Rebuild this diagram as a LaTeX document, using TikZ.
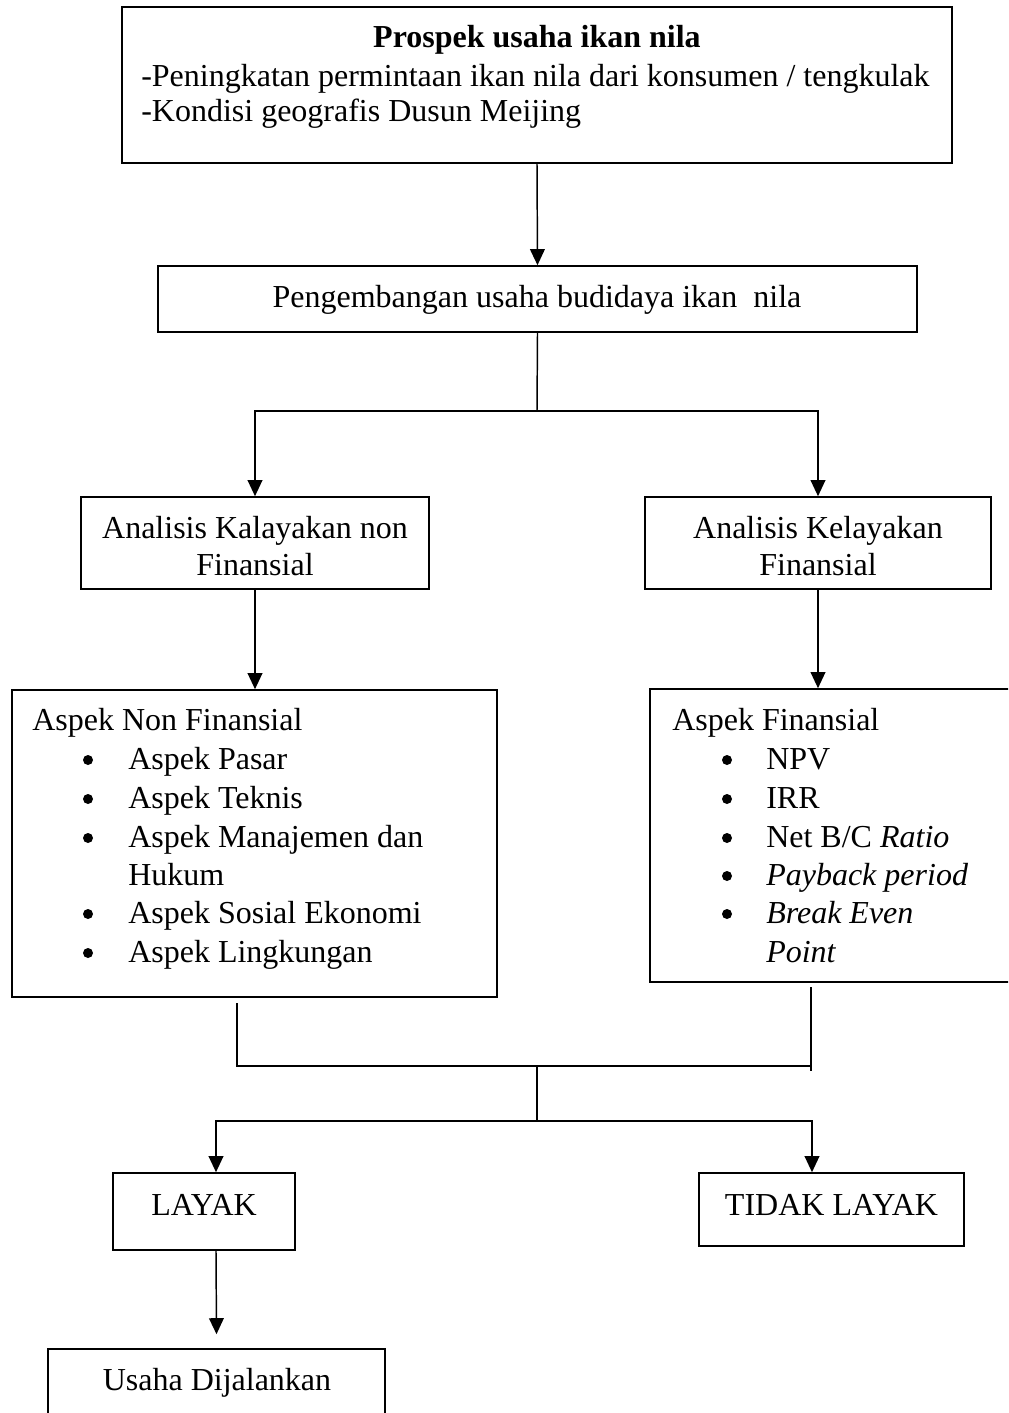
\documentclass[tikz,border=0pt]{standalone}
\usepackage{fontspec}
\setmainfont{Liberation Serif}
\usetikzlibrary{arrows.meta,calc}
\begin{document}
\begin{tikzpicture}[x=0.75pt,y=-0.75pt,
  box/.style={draw,line width=1.2pt,inner sep=0pt},
  txt/.style={inner sep=0pt,font=\fontsize{24pt}{29pt}\selectfont},
  btxt/.style={inner sep=0pt,font=\fontsize{24pt}{29pt}\selectfont\bfseries},
  bul/.style={circle,fill=black,inner sep=0pt,minimum size=7.5pt},
  arr/.style={line width=1.1pt,-{Triangle[length=12pt,width=11pt]}},
  ln/.style={line width=1.1pt}]
\useasboundingbox (0,0) rectangle (1008,1413);
\fill[white] (0,0) rectangle (1008,1413);
\clip (0,0) rectangle (1008,1413);

% boxes
\node[box,minimum width=622.5pt,minimum height=117pt] (prospek) at (537,85) {};
\node[box,minimum width=569.25pt,minimum height=49.5pt] (kembang) at (537.5,299) {};
\node[box,minimum width=261pt,minimum height=69pt] (anl) at (255,543) {};
\node[box,minimum width=259.5pt,minimum height=69pt] (anf) at (818,543) {};
\node[box,minimum width=363.75pt,minimum height=230.25pt] (asnl) at (254.5,843.5) {};
\node[box,minimum width=274.5pt,minimum height=219.75pt] (asf) at (833,835.5) {};
\node[box,minimum width=136.5pt,minimum height=57.75pt] (layak) at (204,1211.5) {};
\node[box,minimum width=198.75pt,minimum height=54.75pt] (tidak) at (831.5,1209.5) {};
\node[box,minimum width=252.75pt,minimum height=68.25pt] (usaha) at (216.5,1394.5) {};

% texts
\node[btxt,anchor=base] (t1) at (537,48) {Prospek usaha ikan nila};
\node[txt,anchor=base west] (t2) at (141,86) {-Peningkatan permintaan ikan nila dari konsumen / tengkulak};
\node[txt,anchor=base west] (t3) at (141,122) {-Kondisi geografis Dusun Meijing};

\node[txt,anchor=base] (t4) at (537,307) {Pengembangan usaha budidaya ikan \ nila};

\node[txt,anchor=base] (t5) at (255,538) {Analisis Kalayakan non};
\node[txt,anchor=base] (t6) at (255,575) {Finansial};
\node[txt,anchor=base] (t7) at (818,538) {Analisis Kelayakan};
\node[txt,anchor=base] (t8) at (818,575) {Finansial};

\node[txt,anchor=base west] (n0) at (32,730) {Aspek Non Finansial};
\node[bul] (nb1) at (88,760) {};
\node[txt,anchor=base west] (n1) at (128,769) {Aspek Pasar};
\node[bul] (nb2) at (88,799) {};
\node[txt,anchor=base west] (n2) at (128,808) {Aspek Teknis};
\node[bul] (nb3) at (88,838) {};
\node[txt,anchor=base west] (n3) at (128,847) {Aspek Manajemen dan};
\node[txt,anchor=base west] (n4) at (128,885) {Hukum};
\node[bul] (nb5) at (88,914) {};
\node[txt,anchor=base west] (n5) at (128,923) {Aspek Sosial Ekonomi};
\node[bul] (nb6) at (88,953) {};
\node[txt,anchor=base west] (n6) at (128,962) {Aspek Lingkungan};

\node[txt,anchor=base west] (f0) at (672,730) {Aspek Finansial};
\node[bul] (fb1) at (727,760) {};
\node[txt,anchor=base west] (f1) at (766,769) {NPV};
\node[bul] (fb2) at (727,799) {};
\node[txt,anchor=base west] (f2) at (766,808) {IRR};
\node[bul] (fb3) at (727,838) {};
\node[txt,anchor=base west] (f3) at (766,847) {Net B/C \textit{Ratio}};
\node[bul] (fb4) at (727,876) {};
\node[txt,anchor=base west] (f4) at (766,885) {\textit{Payback period}};
\node[bul] (fb5) at (727,914) {};
\node[txt,anchor=base west] (f5) at (766,923) {\textit{Break Even}};
\node[txt,anchor=base west] (f6) at (766,962) {\textit{Point}};

\node[txt,anchor=base] (t9) at (204,1215) {LAYAK};
\node[txt,anchor=base] (t10) at (831.5,1215) {TIDAK LAYAK};
\node[txt,anchor=base] (t11) at (217,1390) {Usaha Dijalankan};

% connectors
\draw[arr] (prospek.south) -- (kembang.north);
\coordinate (j1) at (537,411);
\draw[ln] (kembang.south) -- (j1);
\draw[arr] (j1) -| (anl.north);
\draw[arr] (j1) -| (anf.north);
\draw[arr] (anl.south) -- (anl.south |- asnl.north);
\draw[arr] (anf.south) -- (anf.south |- asf.north);

\coordinate (la) at (237,1003);
\coordinate (ra) at (811,987);
\coordinate (j2) at (537,1066);
\coordinate (j3) at (537,1121);
\draw[ln] (la) |- (ra |- j2);
\draw[ln] (ra) -- ($(ra |- j2)+(0,5)$);
\draw[ln] (j2) -- (j3);
\draw[arr] (j3) -| ($(layak.north)+(12,0)$);
\draw[arr] (j3) -| ($(tidak.north)+(-19.5,0)$);
\draw[arr] ($(layak.south)+(12,0)$) -- ($(usaha.north)+(0,-14)$);
\end{tikzpicture}
\end{document}
